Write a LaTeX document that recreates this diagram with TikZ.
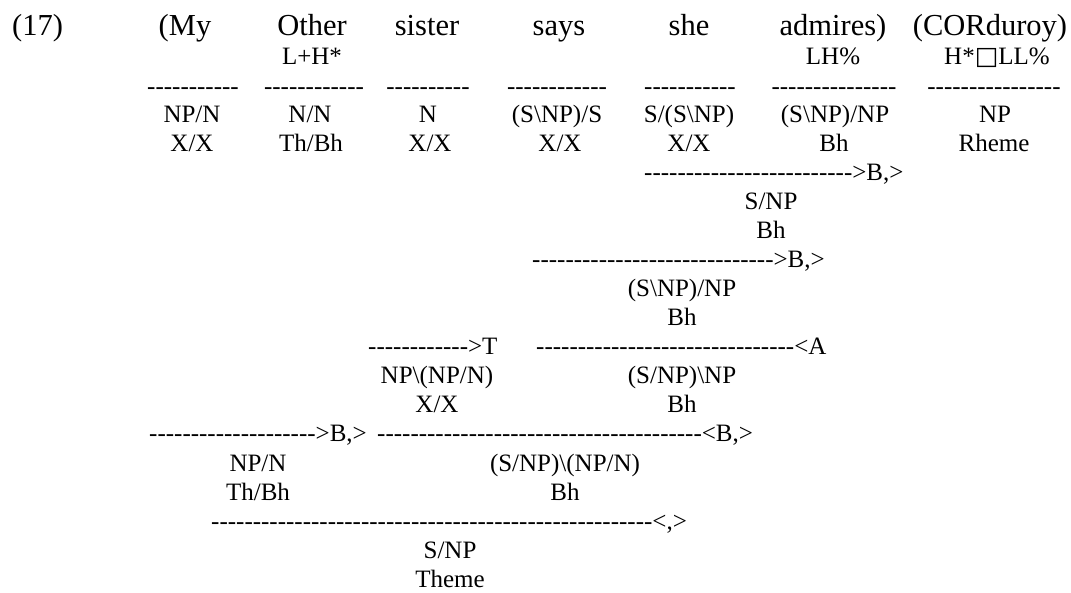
\documentclass[tikz,border=0pt]{standalone}
\usepackage{fontspec}
\setmainfont{Liberation Serif}[Ligatures=TeXOff]
\newfontfamily\boxfont{DejaVu Sans}
\ExplSyntaxOn
\cs_new:Npn \dashrun #1 { \prg_replicate:nn {#1} {-} }
\ExplSyntaxOff
\newcommand\bs{\textbackslash}
\tikzset{
  txt/.style={inner sep=0pt, anchor=base, font=\fontsize{25}{29}\selectfont},
  big/.style={inner sep=0pt, anchor=base, font=\fontsize{30.5}{35}\selectfont},
  dline/.style={inner sep=0pt, anchor=base west, font=\fontsize{25}{29}\selectfont},
}
\begin{document}
\begin{tikzpicture}[x=1pt,y=-1pt]
\useasboundingbox (0,0) rectangle (1071,593);
% words
\node[big, anchor=base west] (ex) at (12,36) {(17)};
\node[big] (w1) at (185,36) {(My};
\node[big] (w2) at (312,36) {Other};
\node[big] (w3) at (427,36) {sister};
\node[big] (w4) at (559,36) {says};
\node[big] (w5) at (689,36) {she};
\node[big] (w6) at (833,36) {admires)};
\node[big] (w7) at (990,36) {(CORduroy)};
% tones
\node[txt] (t2) at (312,65) {L+H*};
\node[txt] (t6) at (833,65) {LH\%};
\node[txt] (t7) at (997,65) {H*{\boxfont □}LL\%};
% lexical lines
\node[txt] (d1) at (193,95) {\dashrun{11}};
\node[txt] (d2) at (314,95) {\dashrun{12}};
\node[txt] (d3) at (428,95) {\dashrun{10}};
\node[txt] (d4) at (557,95) {\dashrun{12}};
\node[txt] (d5) at (690,95) {\dashrun{11}};
\node[txt] (d6) at (834,95) {\dashrun{15}};
\node[txt] (d7) at (994,95) {\dashrun{16}};
% categories
\node[txt] (c1) at (192,123) {NP/N};
\node[txt] (c2) at (310,123) {N/N};
\node[txt] (c3) at (428,123) {N};
\node[txt] (c4) at (557,123) {(S\bs NP)/S};
\node[txt] (c5) at (689,123) {S/(S\bs NP)};
\node[txt] (c6) at (835,123) {(S\bs NP)/NP};
\node[txt] (c7) at (995,123) {NP};
\node[txt] (s1) at (192,152) {X/X};
\node[txt] (s2) at (311,152) {Th/Bh};
\node[txt] (s3) at (430,152) {X/X};
\node[txt] (s4) at (560,152) {X/X};
\node[txt] (s5) at (689,152) {X/X};
\node[txt] (s6) at (834,152) {Bh};
\node[txt] (s7) at (994,152) {Rheme};
% step 1
\node[dline] (L1) at (644,181) {\dashrun{25}>B,>};
\node[txt] (r1c) at (771,210) {S/NP};
\node[txt] (r1s) at (771,239) {Bh};
% step 2
\node[dline] (L2) at (532,268) {\dashrun{29}>B,>};
\node[txt] (r2c) at (682,297) {(S\bs NP)/NP};
\node[txt] (r2s) at (682,326) {Bh};
% step 3
\node[dline] (L3a) at (368,355) {\dashrun{12}>T};
\node[dline] (L3b) at (536,355) {\dashrun{31}<A};
\node[txt] (r3ac) at (437,384) {NP\bs (NP/N)};
\node[txt] (r3as) at (437,413) {X/X};
\node[txt] (r3bc) at (682,384) {(S/NP)\bs NP};
\node[txt] (r3bs) at (682,413) {Bh};
% step 4
\node[dline] (L4a) at (149,442) {\dashrun{20}>B,>};
\node[dline] (L4b) at (377,442) {\dashrun{39}<B,>};
\node[txt] (r4ac) at (258,471) {NP/N};
\node[txt] (r4as) at (258,500) {Th/Bh};
\node[txt] (r4bc) at (565,471) {(S/NP)\bs (NP/N)};
\node[txt] (r4bs) at (565,500) {Bh};
% step 5
\node[dline] (L5) at (211,529) {\dashrun{53}<,>};
\node[txt] (r5c) at (450,558) {S/NP};
\node[txt] (r5s) at (450,587) {Theme};
\end{tikzpicture}
\end{document}
